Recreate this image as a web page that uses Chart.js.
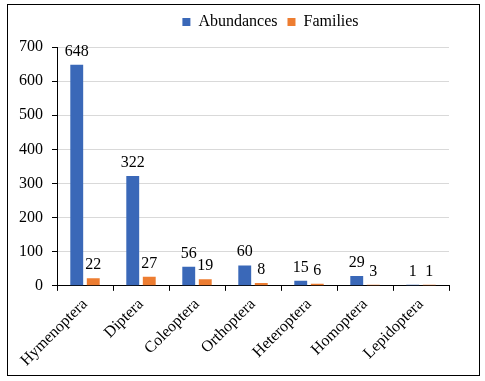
<!DOCTYPE html>
<html lang="en">
<head>
  <meta charset="UTF-8">
  <title>Abundances and Families</title>
  <script src="https://cdn.jsdelivr.net/npm/chart.js"></script>
  <style>
    body { margin: 0; background: #fff; }
    #wrap { position: relative; width: 485px; height: 381px; }
    #frame {
      position: absolute; left: 7px; top: 4px; width: 473px; height: 372px;
      box-sizing: border-box; border: 1px solid #000; pointer-events: none;
    }
  </style>
</head>
<body>
<div id="wrap">
  <canvas id="insectChart"></canvas>
  <div id="frame"></div>
</div>

<script>
// values
const orders = ['Hymenoptera', 'Diptera', 'Coleoptera', 'Orthoptera', 'Heteroptera', 'Homoptera', 'Lepidoptera'];
const abundances = [648, 322, 56, 60, 15, 29, 1];
const families = [22, 27, 19, 8, 6, 3, 1];
const yTicks = [0, 100, 200, 300, 400, 500, 600, 700];

Chart.defaults.font.family = "'Liberation Serif', 'Times New Roman', serif";
Chart.defaults.font.size = 16;
Chart.defaults.color = '#000';

// numbers above each bar
const barValues = {
  id: 'barValues',
  afterDatasetsDraw(chart) {
    const ctx = chart.ctx;
    ctx.save();
    ctx.font = "16px 'Liberation Serif', 'Times New Roman', serif";
    ctx.fillStyle = '#000';
    ctx.textAlign = 'center';
    ctx.textBaseline = 'alphabetic';
    chart.data.datasets.forEach((ds, i) => {
      chart.getDatasetMeta(i).data.forEach((bar, j) => {
        ctx.fillText(ds.data[j], bar.x, bar.y - 9);
      });
    });
    ctx.restore();
  }
};

// a bit more room under the legend, and nudge it right like the original
const legendTweak = {
  id: 'legendTweak',
  beforeInit(chart) {
    const fit = chart.legend.fit;
    chart.legend.fit = function() {
      fit.bind(chart.legend)();
      this.height += 7;
    };
  },
  afterLayout(chart) {
    chart.legend.left += 41;
    chart.legend.right += 41;
  }
};

new Chart(document.getElementById('insectChart'), {
  type: 'bar',
  data: {
    labels: orders,
    datasets: [
      { label: 'Abundances', data: abundances, backgroundColor: '#3A68B8', minBarLength: 1 },
      { label: 'Families', data: families, backgroundColor: '#ED7D31', minBarLength: 1 }
    ]
  },
  options: {
    responsive: true,
    maintainAspectRatio: false,
    animation: false,
    categoryPercentage: 0.59,
    barPercentage: 0.78,
    layout: { padding: { left: 10, right: 36, top: 4, bottom: 7 } },
    plugins: {
      legend: {
        position: 'top',
        labels: { boxWidth: 8, boxHeight: 8, padding: 10 }
      },
      tooltip: { enabled: false }
    },
    scales: {
      x: {
        grid: { offset: true, drawOnChartArea: false, tickLength: 5, color: '#000' },
        border: { color: '#000' },
        ticks: { minRotation: 45, maxRotation: 45, padding: 4 }
      },
      y: {
        min: 0,
        max: 700,
        afterBuildTicks(axis) { axis.ticks = yTicks.map(v => ({ value: v })); },
        grid: { color: '#d9d9d9', tickColor: '#000', tickLength: 5 },
        border: { color: '#000' },
        ticks: { padding: 9 }
      }
    }
  },
  plugins: [barValues, legendTweak]
});
</script>
</body>
</html>
